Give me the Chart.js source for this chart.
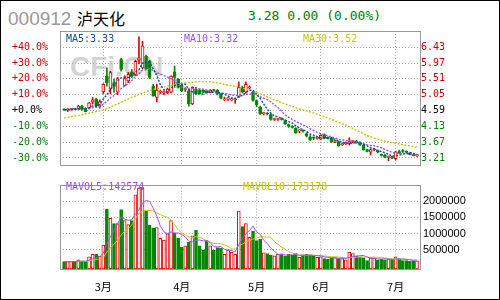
<!DOCTYPE html>
<html>
<head>
<meta charset="utf-8">
<script src="https://cdn.jsdelivr.net/npm/chart.js@4.4.0/dist/chart.umd.min.js"></script>
<style>
  html, body { margin: 0; padding: 0; background: #fff; }
  #page { position: relative; width: 500px; height: 300px; overflow: hidden; background: #fff; }
  #edge { position: absolute; left: 0; top: 0; width: 500px; height: 300px; box-sizing: border-box; border: 1px solid #000; }
  .txt { position: absolute; white-space: nowrap; line-height: 1; }
  #code { left: 8px; top: 8px; font: 19px "Liberation Sans", Arial, sans-serif; color: #999; }
  #name { left: 77px; top: 6px; font: 16px "Noto Sans CJK SC", sans-serif; color: #000; }
  #quote { left: 248px; top: 8px; font: 13px "DejaVu Sans Mono", monospace; color: #008000; }
  #wm { left: 70px; top: 51px; font: bold 28px "Liberation Sans", Arial, sans-serif; color: #d4d4d4; }
  .ma { font: 10px "DejaVu Sans Mono", monospace; }
  canvas { position: absolute; left: 0; }
</style>
</head>
<body>
<div id="page">
  <div class="txt" id="code">000912</div>
  <div class="txt" id="name">泸天化</div>
  <div class="txt" id="quote">3.28 0.00 (0.00%)</div>
  <div class="txt" id="wm">CFi.CN</div>
  <canvas id="price" width="500" height="172" style="top:0"></canvas>
  <canvas id="vol" width="500" height="125" style="top:175px"></canvas>
  <div class="txt ma" style="left:66px;top:33px;color:#00509a">MA5:3.33</div>
  <div class="txt ma" style="left:184px;top:33px;color:#a050f0">MA10:3.32</div>
  <div class="txt ma" style="left:303px;top:33px;color:#c8c800">MA30:3.52</div>
  <div class="txt ma" style="left:66px;top:181px;color:#a050f0">MAVOL5:142574</div>
  <div class="txt ma" style="left:243px;top:181px;color:#c8c800">MAVOL10:173178</div>
  <div id="edge"></div>
</div>
<script>
// 月份和每月交易日数
const months = ["2月", "3月", "4月", "5月", "6月", "7月"];
const monthDays = [11, 22, 21, 18, 21, 7];
const basePrice = 4.59;

const open = [4.62, 4.61, 4.62, 4.64, 4.64, 4.72, 4.66, 4.66, 4.83, 4.92, 4.72,
  5.13, 5.59, 5.23, 5.40, 5.12, 6.07, 5.32, 5.45, 5.71, 5.64, 6.05, 5.83, 6.16, 6.02, 5.30, 4.97, 5.12, 5.11, 5.10, 5.12, 5.71, 5.50,
  5.32, 5.20, 5.16, 4.78, 5.22, 5.18, 5.18, 5.16, 5.13, 5.18, 5.18, 5.06, 4.90, 4.92, 4.90, 4.90, 5.00, 5.26, 5.12, 5.25, 5.12,
  4.88, 4.69, 4.50, 4.51, 4.47, 4.33, 4.33, 4.35, 4.30, 4.18, 4.13, 4.07, 4.00, 4.01, 3.92, 3.83, 3.80, 3.78,
  3.76, 3.89, 3.80, 3.80, 3.69, 3.69, 3.60, 3.63, 3.66, 3.69, 3.70, 3.66, 3.59, 3.46, 3.38, 3.45, 3.43, 3.31, 3.30, 3.23, 3.25,
  3.19, 3.39, 3.41, 3.40, 3.36, 3.29, 3.28];
const high = [4.64, 4.64, 4.65, 4.65, 4.74, 4.74, 4.67, 4.82, 4.97, 4.95, 4.90,
  5.37, 5.83, 5.73, 5.50, 5.55, 6.11, 5.60, 5.70, 5.78, 6.05, 6.73, 6.60, 6.20, 6.05, 5.35, 5.36, 5.18, 5.16, 5.24, 5.60, 5.88, 5.52,
  5.35, 5.24, 5.21, 5.28, 5.26, 5.22, 5.20, 5.19, 5.20, 5.21, 5.20, 5.08, 4.98, 4.97, 4.95, 4.96, 5.42, 5.30, 5.42, 5.30, 5.15,
  4.90, 4.72, 4.54, 4.53, 4.50, 4.37, 4.36, 4.38, 4.32, 4.20, 4.15, 4.09, 4.03, 4.03, 3.94, 3.86, 3.83, 3.82,
  3.89, 3.91, 3.83, 3.82, 3.74, 3.70, 3.64, 3.68, 3.80, 3.72, 3.73, 3.68, 3.61, 3.47, 3.48, 3.48, 3.44, 3.33, 3.32, 3.27, 3.26,
  3.41, 3.44, 3.46, 3.42, 3.37, 3.32, 3.31];
const low = [4.59, 4.56, 4.60, 4.61, 4.62, 4.60, 4.55, 4.64, 4.78, 4.70, 4.66,
  5.08, 5.30, 5.07, 5.12, 5.05, 5.73, 5.30, 5.40, 5.55, 5.60, 5.95, 5.80, 5.78, 5.52, 5.00, 4.84, 5.08, 5.05, 5.08, 5.10, 5.26, 5.24,
  5.14, 5.14, 4.72, 4.76, 5.05, 5.06, 5.10, 5.09, 5.10, 5.15, 5.04, 4.93, 4.88, 4.88, 4.87, 4.80, 4.97, 5.10, 5.10, 5.22, 4.86,
  4.70, 4.48, 4.46, 4.46, 4.31, 4.30, 4.30, 4.31, 4.19, 4.10, 4.08, 3.93, 3.94, 3.96, 3.82, 3.72, 3.74, 3.76,
  3.74, 3.77, 3.76, 3.66, 3.66, 3.55, 3.58, 3.60, 3.59, 3.66, 3.64, 3.58, 3.44, 3.39, 3.30, 3.42, 3.36, 3.27, 3.22, 3.13, 3.19,
  3.16, 3.34, 3.37, 3.36, 3.30, 3.27, 3.26];
const close = [4.61, 4.62, 4.63, 4.63, 4.72, 4.62, 4.56, 4.81, 4.90, 4.72, 4.85,
  5.35, 5.40, 5.69, 5.29, 5.52, 5.78, 5.52, 5.64, 5.59, 6.02, 6.12, 6.47, 5.80, 5.55, 5.02, 5.18, 5.13, 5.12, 5.21, 5.59, 5.55, 5.26,
  5.16, 5.21, 4.78, 5.26, 5.08, 5.08, 5.12, 5.11, 5.18, 5.17, 5.07, 4.95, 4.93, 4.93, 4.91, 4.92, 5.26, 5.12, 5.35, 5.26, 4.88,
  4.75, 4.50, 4.51, 4.49, 4.33, 4.34, 4.34, 4.33, 4.21, 4.13, 4.10, 3.95, 4.01, 3.99, 3.85, 3.73, 3.79, 3.79,
  3.87, 3.78, 3.78, 3.67, 3.70, 3.57, 3.62, 3.65, 3.67, 3.70, 3.66, 3.60, 3.45, 3.40, 3.46, 3.46, 3.38, 3.29, 3.23, 3.25, 3.21,
  3.39, 3.37, 3.40, 3.38, 3.31, 3.28, 3.28];
const volume = [124000, 124000, 124000, 124000, 182000, 124000, 124000, 269000, 347000, 347000, 298000,
  636000, 1763000, 1474000, 1309000, 1309000, 1743000, 1405000, 1280000, 1405000, 2205000, 2416000, 2416000,
  1694000, 1260000, 1165000, 1185000, 847000, 798000, 991000, 1405000, 1020000, 855000,
  566000, 616000, 731000, 925000, 1098000, 616000, 471000, 780000, 616000, 471000, 558000, 539000,
  347000, 491000, 413000, 347000, 1694000, 1214000, 1309000, 876000, 1069000,
  780000, 827000, 393000, 375000, 330000, 300000, 347000, 366000, 298000, 347000, 320000, 375000,
  260000, 320000, 347000, 330000, 290000, 260000,
  270000, 220000, 202000, 249000, 249000, 220000, 220000, 182000, 413000, 375000, 298000, 260000,
  240000, 153000, 240000, 240000, 182000, 202000, 182000, 202000, 190000,
  269000, 202000, 153000, 153000, 133000, 133000, 144000];
// 30日均线
const ma30 = [4.37, 4.39, 4.41, 4.43, 4.45, 4.47, 4.49, 4.51, 4.54, 4.56, 4.58,
  4.61, 4.64, 4.68, 4.74, 4.78, 4.83, 4.88, 4.93, 4.97, 5.01, 5.05, 5.09, 5.14, 5.17, 5.20, 5.22, 5.25, 5.27, 5.30, 5.32, 5.34, 5.36,
  5.38, 5.39, 5.40, 5.41, 5.42, 5.43, 5.43, 5.43, 5.43, 5.41, 5.39, 5.37, 5.35, 5.33, 5.31, 5.29, 5.27, 5.24, 5.21, 5.18, 5.15,
  5.12, 5.08, 5.04, 4.99, 4.95, 4.90, 4.86, 4.82, 4.78, 4.75, 4.71, 4.67, 4.64, 4.61, 4.58, 4.55, 4.52, 4.48,
  4.45, 4.41, 4.37, 4.33, 4.29, 4.25, 4.21, 4.17, 4.12, 4.07, 4.02, 3.97, 3.91, 3.86, 3.83, 3.79, 3.76, 3.73, 3.70, 3.68, 3.66,
  3.64, 3.62, 3.60, 3.58, 3.56, 3.54, 3.52];

const red = "#e00000";
const green = "#008800";
const gridColor = "#a8a8a8";

const movingAvg = (values, n) =>
  values.map((v, i) => {
    const win = values.slice(Math.max(0, i - n + 1), i + 1);
    return win.reduce((a, b) => a + b, 0) / win.length;
  });

const idx = close.map((_, i) => i);
const isUp = idx.map((i) => close[i] >= open[i]);
const candleColor = idx.map((i) => (isUp[i] ? red : green));
const bodyFill = idx.map((i) => (isUp[i] ? "#fff" : green));
const points = (arr) => arr.map((y, i) => ({ x: i, y: y }));

// 每月第一天的位置
const monthStart = [];
let acc = 0;
monthDays.forEach((d) => {
  monthStart.push(acc);
  acc += d;
});
const xTicks = monthStart.slice(1);

Chart.defaults.font.family = "DejaVu Sans Mono";
Chart.defaults.font.size = 10;
Chart.defaults.animation = false;
Chart.defaults.events = [];

const framePlugin = {
  id: "frame",
  afterDraw(chart) {
    const a = chart.chartArea;
    const ctx = chart.ctx;
    ctx.save();
    ctx.strokeStyle = "#999";
    ctx.lineWidth = 1;
    ctx.strokeRect(Math.round(a.left) + 0.5, Math.round(a.top) + 0.5,
      Math.round(a.right - a.left), Math.round(a.bottom - a.top));
    ctx.restore();
  },
};

const xScale = {
  type: "linear",
  min: -1.15,
  max: 99.84,
  offset: false,
  afterBuildTicks: (s) => {
    s.ticks = xTicks.map((v) => ({ value: v }));
  },
  grid: { offset: false, color: gridColor, drawTicks: false },
  border: { display: false, dash: [1, 2] },
};

const priceTickColor = (ctx) => {
  const d = ctx.tick.value - basePrice;
  if (Math.abs(d) < 1e-6) return "#000";
  return d > 0 ? "#cc0000" : "#008000";
};
const priceTicks = [-3, -2, -1, 0, 1, 2, 3, 4].map((k) => basePrice * (1 + k / 10));

// 均线虚点样式
const maLine = (data, color) => ({
  type: "line", data: data, yAxisID: "price",
  borderColor: color, borderWidth: 1.4, borderDash: [2, 1.5], pointRadius: 0, order: 0,
});

const priceChart = new Chart(document.getElementById("price"), {
  type: "bar",
  data: {
    datasets: [
      maLine(points(movingAvg(close, 5)), "#00509a"),
      maLine(points(movingAvg(close, 10)), "#a050f0"),
      maLine(points(ma30), "#c8c800"),
      {
        data: idx.map((i) => ({ x: i, y: [open[i], close[i]] })), yAxisID: "price",
        grouped: false, barThickness: 3, minBarLength: 1, borderWidth: 1, borderSkipped: false,
        borderColor: candleColor, backgroundColor: bodyFill, order: 1,
      },
      {
        data: idx.map((i) => ({ x: i, y: [low[i], high[i]] })), yAxisID: "price",
        grouped: false, barThickness: 1, borderWidth: 0,
        backgroundColor: candleColor, order: 2,
      },
    ],
  },
  options: {
    responsive: false,
    layout: { padding: { top: 31, bottom: 5, left: 12, right: 0 } },
    plugins: { legend: { display: false }, tooltip: { enabled: false } },
    scales: {
      x: Object.assign({}, xScale, {
        ticks: { display: false },
        afterFit: (s) => { s.height = 0; },
      }),
      pct: {
        type: "linear", position: "left", min: 3.009, max: 6.898,
        afterBuildTicks: (s) => { s.ticks = priceTicks.map((v) => ({ value: v })); },
        afterFit: (s) => { s.width = 48; },
        ticks: {
          crossAlign: "far", padding: 0, color: priceTickColor,
          callback: (v) => {
            const p = Math.round((v / basePrice - 1) * 1000) / 10;
            return (p >= 0 ? "+" : "-") + Math.abs(p).toFixed(1) + "%";
          },
        },
        grid: { color: gridColor, drawTicks: false },
        border: { display: false, dash: [1, 2] },
      },
      price: {
        type: "linear", position: "right", min: 3.009, max: 6.898,
        afterBuildTicks: (s) => { s.ticks = priceTicks.map((v) => ({ value: v })); },
        afterFit: (s) => { s.width = 80; },
        ticks: { padding: 1, color: priceTickColor, callback: (v) => v.toFixed(2) },
        grid: { display: false, drawTicks: false },
        border: { display: false },
      },
    },
  },
  plugins: [framePlugin],
});

const volMin = -107000;
const volChart = new Chart(document.getElementById("vol"), {
  type: "bar",
  data: {
    datasets: [
      {
        type: "line", data: points(movingAvg(volume, 5)),
        borderColor: "#a050f0", borderWidth: 1, pointRadius: 0, order: 0,
      },
      {
        type: "line", data: points(movingAvg(volume, 10)),
        borderColor: "#c8c800", borderWidth: 1, pointRadius: 0, order: 0,
      },
      {
        data: idx.map((i) => ({ x: i, y: volume[i] })), base: volMin,
        grouped: false, barThickness: 3, borderWidth: 1, borderSkipped: false,
        borderColor: candleColor, backgroundColor: bodyFill, order: 1,
      },
    ],
  },
  options: {
    responsive: false,
    layout: { padding: { top: 3, bottom: 0, left: 60, right: 0 } },
    plugins: { legend: { display: false }, tooltip: { enabled: false } },
    scales: {
      x: Object.assign({}, xScale, {
        afterFit: (s) => { s.height = 31; },
        ticks: {
          padding: 11, color: "#000", maxRotation: 0,
          font: { family: "Noto Sans CJK SC", size: 11 },
          callback: (v) => months[monthStart.indexOf(v)],
        },
      }),
      y: {
        type: "linear", position: "right", min: volMin, max: 2523000,
        afterBuildTicks: (s) => {
          s.ticks = [500000, 1000000, 1500000, 2000000].map((v) => ({ value: v }));
        },
        afterFit: (s) => { s.width = 80; },
        ticks: {
          padding: 3, color: "#000",
          font: { family: "Liberation Sans", size: 11 },
          callback: (v) => String(v),
        },
        grid: { color: gridColor, drawTicks: false },
        border: { display: false, dash: [1, 2] },
      },
    },
  },
  plugins: [framePlugin],
});
</script>
</body>
</html>
